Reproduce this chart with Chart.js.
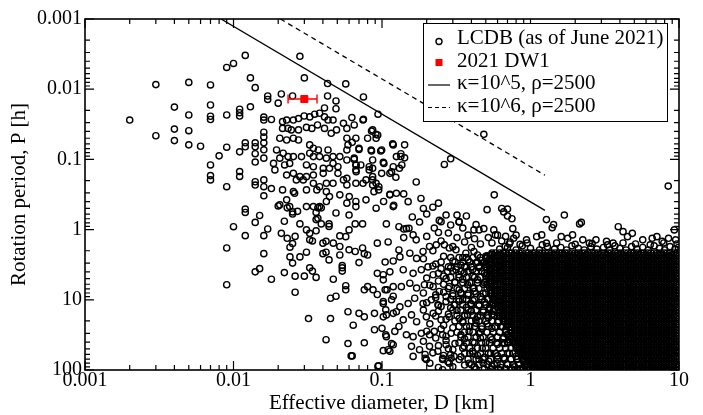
<!DOCTYPE html>
<html><head><meta charset="utf-8">
<script src="https://cdn.jsdelivr.net/npm/chart.js@4"></script>
<style>html,body{margin:0;padding:0;background:#fff}#wrap{width:703px;height:415px}</style>
</head><body><div id="wrap"><canvas id="c"></canvas></div>
<script>
const xTickValues=[0.001,0.01,0.1,1,10];
const xTickLabels=['0.001','0.01','0.1','1','10'];
const yTickValues=[0.001,0.01,0.1,1,10,100];
const yTickLabels=['0.001','0.01','0.1','1','10','100'];
const xTitle='Effective diameter, D [km]';
const yTitle='Rotation period, P [h]';
const seriesLabels=['LCDB (as of June 2021)','2021 DW1','\u03ba=10^5, \u03c1=2500','\u03ba=10^6, \u03c1=2500'];

// 2021 DW1 (diameter with range, period)
const dw1D=[0.03], dw1P=[0.0138], dw1Dmin=[0.0233], dw1Dmax=[0.0365];
// spin limits (end points of the power-law lines)
const spin5D=[0.00824,1.25], spin5P=[0.001,0.533];
const spin6D=[0.0207,1.25], spin6P=[0.001,0.168];

// LCDB: individually readable points [D km, P h]
const lcdbSparse=[
[0.002,0.0275],[0.003,0.0086],[0.003,0.046],[0.004,0.018],[0.004,0.037],[0.004,0.054],[0.005,0.008],[0.005,0.0233],[0.005,0.039],[0.005,0.062],[0.006,0.065],[0.007,0.0087],[0.007,0.0168],[0.007,0.0243],[0.007,0.027],[0.007,0.12],[0.007,0.17],[0.007,0.196],[0.008,0.089],[0.009,0.0049],[0.01,0.0043],[0.009,0.0233],[0.009,0.067],[0.009,0.245],[0.011,0.0193],[0.011,0.0216],[0.011,0.0241],[0.011,0.078],[0.011,0.149],[0.011,0.175],[0.012,0.0033],[0.013,0.0069],[0.013,0.0178],[0.014,0.0095],[0.012,0.058],[0.012,0.066],[0.014,0.058],[0.014,0.066],[0.014,0.083],[0.014,0.109],[0.014,0.208],[0.014,0.232],[0.016,0.025],[0.016,0.0275],[0.016,0.041],[0.016,0.048],[0.016,0.058],[0.016,0.073],[0.016,0.096],[0.016,0.196],[0.016,0.245],[0.016,0.33],[0.017,0.0125],[0.017,0.014],[0.018,0.027],[0.018,0.26],[0.02,0.0158],[0.021,0.0117],[0.025,0.0125],[0.028,0.0034],[0.03,0.0069],[0.043,0.0083],[0.043,0.0125],[0.049,0.0147],[0.049,0.019],[0.057,0.0084],[0.075,0.0129],[0.075,0.0268],[0.094,0.0227],[0.041,0.0185],
[0.0214,0.029],[0.0228,0.0275],[0.0253,0.0275],[0.0274,0.0262],[0.0299,0.0241],[0.0326,0.0248],[0.0352,0.0227],[0.038,0.022],[0.041,0.0248],[0.0433,0.0275],[0.0468,0.0275],[0.055,0.0306],[0.058,0.0362],[0.0627,0.0254],[0.065,0.0323],[0.0745,0.0275],
[0.0214,0.0362],[0.0233,0.0362],[0.0245,0.038],[0.0274,0.038],[0.031,0.035],[0.0337,0.0362],[0.0368,0.0323],[0.041,0.0362],[0.0455,0.0425],[0.0494,0.038],[0.058,0.05],[0.0667,0.05],[0.0865,0.038],[0.0936,0.0449],[0.0913,0.05],
[0.0205,0.05],[0.0228,0.0529],[0.0253,0.05],[0.0274,0.0529],[0.0326,0.0622],[0.0345,0.0694],[0.0373,0.0733],[0.0433,0.0733],[0.0468,0.0912],[0.052,0.0912],[0.059,0.0622],[0.058,0.0733],[0.07,0.0694],[0.0845,0.0733],[0.0995,0.0733],[0.119,0.0622],
[0.0195,0.0733],[0.0216,0.0817],[0.0233,0.0912],[0.0253,0.0912],[0.0287,0.0912],[0.0326,0.0817],[0.0345,0.0912],[0.038,0.0912],[0.0422,0.096],[0.0468,0.114],[0.058,0.102],[0.065,0.096],[0.0865,0.102],[0.103,0.114],[0.125,0.0912],
[0.0186,0.114],[0.0205,0.096],[0.0221,0.12],[0.0239,0.114],[0.031,0.12],[0.0345,0.127],[0.0402,0.134],[0.0443,0.134],[0.0505,0.127],[0.0667,0.12],[0.072,0.12],[0.082,0.127],[0.0865,0.134],[0.119,0.127],
[0.019,0.141],[0.0228,0.167],[0.0253,0.158],[0.028,0.176],[0.031,0.176],[0.0345,0.167],[0.0402,0.158],[0.0505,0.158],[0.058,0.186],[0.0667,0.141],[0.082,0.141],[0.0865,0.176],[0.0995,0.158],[0.113,0.158],
[0.0214,0.272],[0.0253,0.288],[0.0265,0.196],[0.0295,0.196],[0.0345,0.219],[0.038,0.245],[0.0422,0.219],[0.0468,0.219],[0.055,0.196],[0.058,0.231],[0.0667,0.219],[0.0745,0.219],[0.0865,0.196],[0.0913,0.219],[0.0953,0.245],[0.113,0.32],
[0.0228,0.377],[0.0258,0.304],[0.031,0.272],[0.0364,0.272],[0.0422,0.288],[0.0443,0.339],[0.052,0.32],[0.0602,0.339],[0.0667,0.398],[0.078,0.377],[0.0883,0.288],[0.1025,0.398],[0.125,0.304],
[0.0205,0.444],[0.0239,0.47],[0.0345,0.47],[0.038,0.47],[0.0422,0.398],[0.058,0.42],[0.0667,0.47],[0.0913,0.496],[0.119,0.47],
[0.085,0.0395],[0.091,0.044],[0.08,0.05],[0.063,0.057],[0.118,0.06],[0.142,0.062],[0.07,0.072],[0.085,0.076],[0.098,0.076],[0.134,0.083],[0.134,0.091],[0.142,0.095],[0.065,0.1],[0.102,0.11],[0.067,0.12],[0.136,0.12],[0.131,0.134],[0.116,0.15],[0.124,0.18],[0.29,0.098],[0.263,0.118],[0.485,0.044],[0.17,0.21],[0.183,0.36],[0.14,0.31],[0.113,0.315],[0.067,0.15],[0.078,0.196],[0.0865,0.231],[0.095,0.272],[0.57,0.32],[0.51,0.52],[0.64,0.5],[0.7,0.51],[0.66,0.56],[0.7,0.64],[0.75,0.7],[0.22,0.48],[0.32,0.62],[0.37,0.64],[0.33,0.78],[0.243,0.74],[0.179,0.78],[1.28,0.72],[1.69,0.62],[2.2,0.79],[1.4,0.94],[0.13,0.91],[0.14,0.98],[0.152,0.96],[0.43,0.85],[0.45,1.01],[0.485,0.97],[0.566,1.01],[0.76,0.97],[0.77,1.33],[0.225,0.95],[0.24,1.1],[8.46,0.24],
[0.107,0.83],[0.146,0.97],[0.162,1.19],[0.25,0.77],[0.331,0.77],[0.416,1.01],[0.58,1.19],[0.675,1.74],[0.94,1.4],[1.1,1.26],[1.19,1.19],[1.28,1.56],[1.43,0.85],[1.61,1.26],[1.78,1.33],[1.92,1.19],[2.14,0.83],[2.25,1.4],[2.49,1.56],[2.76,1.4],[3.25,1.47],[3.6,1.56],[3.9,0.91],[4.2,1.07],[4.5,1.26],[4.85,1.13],[5.7,1.4],[6.6,1.33],[7.1,1.26],[7.7,1.47],[8.5,1.33],[9.5,1.4],[9.3,1.01],
[0.62,1.9],[0.7,1.8],[0.8,1.95],[0.88,1.7],[1.0,1.85],[1.15,1.95],[1.3,1.75],[1.45,1.9],[1.6,1.8],[1.75,1.95],[1.9,1.7],[2.1,1.85],[2.3,1.95],[2.55,1.75],[2.8,1.9],[3.1,1.8],[3.4,1.95],[3.7,1.7],[4.0,1.85],[4.4,1.95],[4.8,1.75],[5.2,1.9],[5.7,1.8],[6.2,1.95],[6.8,1.7],[7.4,1.85],[8.0,1.95],[8.7,1.75],[9.4,1.9],[9.9,1.8],
[0.72,1.6],[0.95,1.55],[1.2,1.65],[1.5,1.55],[2.0,1.62],[2.6,1.58],[3.3,1.65],[4.2,1.55],[5.1,1.6],[6.4,1.65],[7.9,1.55],[9.7,1.6],
[0.009,1.83],[0.009,6.1],[0.01,0.91],[0.012,0.51],[0.012,0.57],[0.012,1.22],[0.014,0.79],[0.014,4.0],[0.015,0.63],[0.015,3.6],[0.016,1.22],[0.016,2.2],[0.017,0.98],[0.018,5.1],[0.02,0.46],[0.021,1.13],[0.022,0.76],[0.022,4.1],[0.023,0.49],[0.023,1.33],[0.024,1.78],[0.024,2.45],[0.025,0.56],[0.025,0.6],[0.025,1.58],[0.025,3.0],[0.026,1.25],[0.026,4.6],[0.026,7.8],[0.027,0.55],[0.028,0.83],[0.028,2.45],[0.03,4.6],[0.031,0.47],[0.031,1.01],[0.031,2.1],[0.032,18.5],[0.0326,1.13],[0.0326,1.4],[0.0326,3.5],[0.034,1.45],[0.034,3.9],[0.036,0.57],[0.036,0.72],[0.036,1.04],[0.036,4.8],[0.037,0.49],[0.037,0.69],[0.039,0.49],[0.039,0.83],[0.04,1.56],[0.04,2.2],[0.042,37],[0.042,1.47],[0.042,2.1],[0.044,0.83],[0.044,0.9],[0.044,2.7],[0.045,9.5],[0.045,18.5],[0.047,1.56],[0.047,5.1],[0.049,0.58],[0.049,8.9],[0.052,1.23],[0.052,1.74],[0.052,2.3],[0.054,3.25],[0.054,3.5],[0.054,3.9],[0.057,1.26],[0.057,6.3],[0.057,7.2],[0.059,14.8],[0.059,42],[0.06,0.62],[0.06,1.01],[0.06,1.94],[0.062,63],[0.064,23],[0.066,0.83],[0.066,2.05],[0.07,2.95],[0.07,15.6],[0.074,1.83],[0.074,0.83],[0.076,2.2],[0.076,7.2],[0.076,17.5],[0.076,41],[0.08,2.3],[0.08,6.5],[0.087,7.2],[0.089,15.6],[0.089,26.7],[0.093,1.56],[0.093,4.2],[0.093,8.4],[0.095,87],[0.1,25.5],[0.102,5.2],[0.102,10.6],[0.102,17.5],[0.102,53],[0.106,13.9],[0.106,31.5],[0.108,7.2],[0.113,54],[0.116,42],[0.119,8.9],[0.125,14.8],[0.13,24],
[0.063,63],[0.094,88],[0.195,60],[0.195,68],[0.256,71],[0.256,99],[0.278,76],[0.292,68],[0.306,64],
[0.105,2.9],[0.119,2.8],[0.132,2.45],[0.154,2.17],[0.171,2.57],[0.189,2.05],[0.209,1.74],[0.232,1.65],[0.263,1.65],[0.284,1.83],[0.315,1.94],[0.367,2.17],[0.416,2.05],
[0.102,4.4],[0.113,4.0],[0.139,3.73],[0.162,4.2],[0.184,3.73],[0.204,3.4],[0.221,4.4],[0.25,3.6],[0.277,3.95],[0.315,3.73],[0.357,4.2],[0.407,3.73],
[0.105,7.2],[0.119,6.5],[0.135,6.5],[0.154,5.8],[0.171,6.8],[0.193,6.1],[0.221,6.5],[0.243,7.6],[0.284,6.5],[0.331,7.2],[0.377,6.1],[0.416,6.8],
[0.102,11.3],[0.116,10],[0.132,12.6],[0.15,11.3],[0.166,9.5],[0.189,11.3],[0.215,10],[0.238,11.8],[0.27,10.6],[0.306,11.8],[0.349,10],[0.397,11.3],
[0.107,16.4],[0.119,15.6],[0.139,19.3],[0.158,16.4],[0.171,20.5],[0.199,17.5],[0.221,15.6],[0.25,19.3],[0.284,17.5],[0.331,18.5],[0.377,16.4],[0.428,19.3],
[0.107,33.5],[0.122,28.2],[0.146,31.5],[0.162,33.5],[0.184,30],[0.209,31.5],[0.225,28.2],[0.256,31.5],[0.292,30],[0.34,31.5],[0.386,28.2],[0.45,30],
[0.11,51.4],[0.119,43.7],[0.158,46],[0.179,51.4],[0.209,46],[0.238,54],[0.27,43.7],[0.3,51.4],[0.357,46],[0.407,54],[0.473,49],
[0.162,64],[0.199,71],[0.256,68],[0.284,80],[0.331,71],[0.386,80],[0.45,71],[0.524,75],[0.595,80],[0.76,84],[1.045,80],
[0.44,2.3],[0.5,2.4],[0.55,2.25],[0.6,2.35],[0.35,2.5],[0.26,2.4],
[0.23,3.1],[0.3,2.8],[0.34,3.2],[0.38,2.7],[0.43,3.0],[0.47,2.75],[0.52,3.1],[0.57,2.9],[0.61,3.2],
[0.26,4.6],[0.29,3.5],[0.33,4.4],[0.37,3.4],[0.41,4.6],[0.45,3.5],[0.49,4.2],[0.54,3.6],[0.58,4.5],[0.62,3.9],
[0.24,5.4],[0.27,5.0],[0.31,5.6],[0.35,5.1],[0.4,5.7],[0.44,5.2],[0.48,6.0],[0.53,5.4],[0.57,6.3],[0.6,5.0],
[0.23,8.5],[0.26,7.8],[0.3,8.8],[0.34,7.9],[0.38,8.6],[0.42,7.6],[0.46,9.0],[0.5,8.0],[0.55,8.9],[0.59,7.4],
[0.25,12.5],[0.29,13],[0.33,10.5],[0.37,12.8],[0.41,10.3],[0.45,12.2],[0.49,10.8],[0.53,12.9],[0.57,10.2],[0.62,12],
[0.24,14.5],[0.28,16],[0.32,14.2],[0.36,17],[0.4,14.5],[0.44,17.5],[0.48,15],[0.52,18],[0.56,14.5],[0.6,17],[0.66,15.5],
[0.26,23],[0.3,25],[0.35,21],[0.39,24],[0.43,21.5],[0.47,26],[0.51,22],[0.55,25.5],[0.6,21],[0.65,24.5],[0.7,22],
[0.27,38],[0.31,42],[0.36,36],[0.41,40],[0.46,35],[0.5,41],[0.55,37],[0.6,43],[0.65,36],[0.7,40],[0.76,38],
[0.29,60],[0.34,65],[0.39,58],[0.44,62],[0.49,66],[0.54,58],[0.6,63],[0.66,67],[0.72,58],[0.8,64],[0.88,60],
[0.36,85],[0.42,90],[0.48,80],[0.55,88],[0.63,92],[0.7,82],[0.78,90],[0.86,95],[0.93,86],
[0.15,0.4],[0.19,0.5],[0.24,0.42],[0.12,0.45],[0.27,0.62],[0.2,0.6],[0.16,0.66],[0.29,0.86],[0.35,0.95],[0.38,1.2],[0.32,1.3],[0.28,1.12],[0.2,1.25],[0.17,1.4],[0.14,1.3],[0.11,1.5],[0.25,1.45],[0.36,1.5],[0.42,1.35],[0.46,1.6],[0.52,1.3],[0.55,1.55],[0.6,1.2],[0.64,1.45],[0.68,1.25],[0.73,1.5],[0.8,1.2],[0.85,1.62],[0.4,1.8],[0.3,1.75],[0.22,2.0],[0.13,1.95],
[0.56,9.5],[0.55,11],[0.53,13.5],[0.55,16],[0.66,20.5],[0.68,27],[0.7,31],[0.72,37],[0.67,42],[0.84,48],[0.88,53],[0.82,70],[0.9,76],[0.85,99],
[0.29,2.5],[0.33,2.5],[0.37,2.5],[0.41,2.5],[0.46,2.5],[0.51,2.5],
[0.31,2.9],[0.35,2.9],[0.39,2.9],[0.44,2.9],[0.49,2.9],[0.54,2.9],
[0.28,3.4],[0.32,3.4],[0.36,3.4],[0.4,3.4],[0.45,3.4],[0.5,3.4],
[0.3,3.9],[0.34,3.9],[0.38,3.9],[0.43,3.9],[0.47,3.9],[0.53,3.9],
[0.29,4.8],[0.33,4.8],[0.37,4.8],[0.42,4.8],[0.46,4.8],[0.52,4.8],
[0.31,5.7],[0.35,5.7],[0.39,5.7],[0.44,5.7],[0.49,5.7],[0.55,5.7],
[0.28,6.9],[0.32,6.9],[0.36,6.9],[0.41,6.9],[0.45,6.9],[0.51,6.9],
[0.3,8.2],[0.34,8.2],[0.38,8.2],[0.43,8.2],[0.48,8.2],[0.54,8.2],
[0.29,9.8],[0.33,9.8],[0.37,9.8],[0.42,9.8],[0.47,9.8],[0.52,9.8],
[0.31,11.8],[0.35,11.8],[0.4,11.8],[0.45,11.8],[0.5,11.8],[0.56,11.8],
[0.3,14],[0.34,14],[0.38,14],[0.43,14],[0.48,14],[0.53,14],
[0.32,16.8],[0.36,16.8],[0.41,16.8],[0.46,16.8],[0.51,16.8],[0.57,16.8],[0.62,16.8],
[0.31,20],[0.35,20],[0.4,20],[0.45,20],[0.5,20],[0.55,20],[0.61,20],[0.66,20],
[0.33,24],[0.37,24],[0.42,24],[0.47,24],[0.52,24],[0.58,24],[0.63,24],[0.69,24],
[0.32,29],[0.36,29],[0.41,29],[0.46,29],[0.51,29],[0.56,29],[0.62,29],[0.68,29],
[0.34,34],[0.38,34],[0.43,34],[0.48,34],[0.54,34],[0.6,34],[0.66,34],[0.72,34],
[0.33,41],[0.37,41],[0.42,41],[0.47,41],[0.53,41],[0.59,41],[0.65,41],[0.71,41],[0.77,41],
[0.35,49],[0.39,49],[0.44,49],[0.5,49],[0.56,49],[0.62,49],[0.68,49],[0.74,49],[0.8,49],
[0.36,58],[0.41,58],[0.46,58],[0.52,58],[0.58,58],[0.64,58],[0.7,58],[0.76,58],[0.83,58],
[0.38,70],[0.43,70],[0.48,70],[0.54,70],[0.6,70],[0.67,70],[0.74,70],[0.81,70],[0.88,70],
[0.4,84],[0.45,84],[0.51,84],[0.57,84],[0.63,84],[0.7,84],[0.77,84],[0.84,84],[0.91,84],
[0.43,97],[0.49,97],[0.55,97],[0.61,97],[0.68,97],[0.75,97],[0.82,97],[0.89,97],
[0.19,2.6],[0.22,3.3],[0.25,2.9],[0.2,4.9],[0.24,4.2],[0.21,6.2],[0.26,6.0],[0.19,8.0],[0.23,9.3],[0.27,9.0],[0.2,11],[0.24,12],[0.19,14],[0.23,17],[0.27,19],[0.21,22],[0.25,26],[0.2,28],[0.23,35],[0.27,33],[0.19,39],[0.24,45],[0.28,50],[0.22,57],[0.26,62],[0.21,80],[0.3,90],[0.24,92]
];

// LCDB: saturated block (D 0.5-10 km, P 2-100 h), rows of [P, diameters]
const lcdbDenseRows=[
[2.15,[0.55,0.58,0.62,0.65,0.68,0.72,0.75,0.79,0.84,0.88,0.93,0.97,1.03,1.08,1.14,1.2,1.26,1.32,1.39,1.47,1.55,1.63,1.71,1.8,1.89,2,2.1,2.21,2.32,2.44,2.58,2.71,2.85,3,3.16,3.33,3.5,3.68,3.87,4.07,4.3,4.52,4.75,5,5.26,5.55,5.83,6.14,6.46,6.79,7.16,7.53,7.93,8.34,8.77,9.25,9.73]],
[2.36,[0.51,0.54,0.57,0.6,0.63,0.66,0.7,0.74,0.78,0.82,0.86,0.9,0.95,1,1.05,1.11,1.17,1.23,1.29,1.36,1.43,1.5,1.59,1.67,1.76,1.85,1.94,2.05,2.15,2.27,2.38,2.5,2.64,2.78,2.92,3.08,3.24,3.42,3.59,3.78,3.97,4.18,4.41,4.64,4.87,5.13,5.4,5.69,5.98,6.3,6.63,6.97,7.35,7.73,8.14,8.56,9,9.49,9.98]],
[2.6,[0.5,0.53,0.55,0.58,0.62,0.65,0.68,0.72,0.75,0.79,0.84,0.88,0.93,0.97,1.03,1.08,1.14,1.2,1.26,1.32,1.39,1.47,1.55,1.63,1.71,1.8,1.89,2,2.1,2.21,2.32,2.44,2.58,2.71,2.85,3,3.16,3.33,3.5,3.68,3.87,4.07,4.3,4.52,4.75,5,5.26,5.55,5.83,6.14,6.46,6.79,7.16,7.53,7.93,8.34,8.77,9.25,9.73]],
[2.85,[0.54,0.57,0.6,0.63,0.66,0.7,0.74,0.78,0.82,0.86,0.9,0.95,1,1.05,1.11,1.17,1.23,1.29,1.36,1.43,1.5,1.59,1.67,1.76,1.85,1.94,2.05,2.15,2.27,2.38,2.5,2.64,2.78,2.92,3.08,3.24,3.42,3.59,3.78,3.97,4.18,4.41,4.64,4.87,5.13,5.4,5.69,5.98,6.3,6.63,6.97,7.35,7.73,8.14,8.56,9,9.49,9.98]],
[3.13,[0.5,0.53,0.55,0.58,0.62,0.65,0.68,0.72,0.75,0.79,0.84,0.88,0.93,0.97,1.03,1.08,1.14,1.2,1.26,1.32,1.39,1.47,1.55,1.63,1.71,1.8,1.89,2,2.1,2.21,2.32,2.44,2.58,2.71,2.85,3,3.16,3.33,3.5,3.68,3.87,4.07,4.3,4.52,4.75,5,5.26,5.55,5.83,6.14,6.46,6.79,7.16,7.53,7.93,8.34,8.77,9.25,9.73]],
[3.44,[0.51,0.54,0.57,0.6,0.63,0.66,0.7,0.74,0.78,0.82,0.86,0.9,0.95,1,1.05,1.11,1.17,1.23,1.29,1.36,1.43,1.5,1.59,1.67,1.76,1.85,1.94,2.05,2.15,2.27,2.38,2.5,2.64,2.78,2.92,3.08,3.24,3.42,3.59,3.78,3.97,4.18,4.41,4.64,4.87,5.13,5.4,5.69,5.98,6.3,6.63,6.97,7.35,7.73,8.14,8.56,9,9.49,9.98]],
[3.78,[0.53,0.55,0.58,0.62,0.65,0.68,0.72,0.75,0.79,0.84,0.88,0.93,0.97,1.03,1.08,1.14,1.2,1.26,1.32,1.39,1.47,1.55,1.63,1.71,1.8,1.89,2,2.1,2.21,2.32,2.44,2.58,2.71,2.85,3,3.16,3.33,3.5,3.68,3.87,4.07,4.3,4.52,4.75,5,5.26,5.55,5.83,6.14,6.46,6.79,7.16,7.53,7.93,8.34,8.77,9.25,9.73]],
[4.15,[0.51,0.54,0.57,0.6,0.63,0.66,0.7,0.74,0.78,0.82,0.86,0.9,0.95,1,1.05,1.11,1.17,1.23,1.29,1.36,1.43,1.5,1.59,1.67,1.76,1.85,1.94,2.05,2.15,2.27,2.38,2.5,2.64,2.78,2.92,3.08,3.24,3.42,3.59,3.78,3.97,4.18,4.41,4.64,4.87,5.13,5.4,5.69,5.98,6.3,6.63,6.97,7.35,7.73,8.14,8.56,9,9.49,9.98]],
[4.56,[0.5,0.53,0.55,0.58,0.62,0.65,0.68,0.72,0.75,0.79,0.84,0.88,0.93,0.97,1.03,1.08,1.14,1.2,1.26,1.32,1.39,1.47,1.55,1.63,1.71,1.8,1.89,2,2.1,2.21,2.32,2.44,2.58,2.71,2.85,3,3.16,3.33,3.5,3.68,3.87,4.07,4.3,4.52,4.75,5,5.26,5.55,5.83,6.14,6.46,6.79,7.16,7.53,7.93,8.34,8.77,9.25,9.73]],
[5.0,[0.54,0.57,0.6,0.63,0.66,0.7,0.74,0.78,0.82,0.86,0.9,0.95,1,1.05,1.11,1.17,1.23,1.29,1.36,1.43,1.5,1.59,1.67,1.76,1.85,1.94,2.05,2.15,2.27,2.38,2.5,2.64,2.78,2.92,3.08,3.24,3.42,3.59,3.78,3.97,4.18,4.41,4.64,4.87,5.13,5.4,5.69,5.98,6.3,6.63,6.97,7.35,7.73,8.14,8.56,9,9.49,9.98]],
[5.5,[0.5,0.53,0.55,0.58,0.62,0.65,0.68,0.72,0.75,0.79,0.84,0.88,0.93,0.97,1.03,1.08,1.14,1.2,1.26,1.32,1.39,1.47,1.55,1.63,1.71,1.8,1.89,2,2.1,2.21,2.32,2.44,2.58,2.71,2.85,3,3.16,3.33,3.5,3.68,3.87,4.07,4.3,4.52,4.75,5,5.26,5.55,5.83,6.14,6.46,6.79,7.16,7.53,7.93,8.34,8.77,9.25,9.73]],
[6.04,[0.51,0.54,0.57,0.6,0.63,0.66,0.7,0.74,0.78,0.82,0.86,0.9,0.95,1,1.05,1.11,1.17,1.23,1.29,1.36,1.43,1.5,1.59,1.67,1.76,1.85,1.94,2.05,2.15,2.27,2.38,2.5,2.64,2.78,2.92,3.08,3.24,3.42,3.59,3.78,3.97,4.18,4.41,4.64,4.87,5.13,5.4,5.69,5.98,6.3,6.63,6.97,7.35,7.73,8.14,8.56,9,9.49,9.98]],
[6.63,[0.53,0.55,0.58,0.62,0.65,0.68,0.72,0.75,0.79,0.84,0.88,0.93,0.97,1.03,1.08,1.14,1.2,1.26,1.32,1.39,1.47,1.55,1.63,1.71,1.8,1.89,2,2.1,2.21,2.32,2.44,2.58,2.71,2.85,3,3.16,3.33,3.5,3.68,3.87,4.07,4.3,4.52,4.75,5,5.26,5.55,5.83,6.14,6.46,6.79,7.16,7.53,7.93,8.34,8.77,9.25,9.73]],
[7.28,[0.54,0.57,0.6,0.63,0.66,0.7,0.74,0.78,0.82,0.86,0.9,0.95,1,1.05,1.11,1.17,1.23,1.29,1.36,1.43,1.5,1.59,1.67,1.76,1.85,1.94,2.05,2.15,2.27,2.38,2.5,2.64,2.78,2.92,3.08,3.24,3.42,3.59,3.78,3.97,4.18,4.41,4.64,4.87,5.13,5.4,5.69,5.98,6.3,6.63,6.97,7.35,7.73,8.14,8.56,9,9.49,9.98]],
[8.0,[0.55,0.58,0.62,0.65,0.68,0.72,0.75,0.79,0.84,0.88,0.93,0.97,1.03,1.08,1.14,1.2,1.26,1.32,1.39,1.47,1.55,1.63,1.71,1.8,1.89,2,2.1,2.21,2.32,2.44,2.58,2.71,2.85,3,3.16,3.33,3.5,3.68,3.87,4.07,4.3,4.52,4.75,5,5.26,5.55,5.83,6.14,6.46,6.79,7.16,7.53,7.93,8.34,8.77,9.25,9.73]],
[8.78,[0.57,0.6,0.63,0.66,0.7,0.74,0.78,0.82,0.86,0.9,0.95,1,1.05,1.11,1.17,1.23,1.29,1.36,1.43,1.5,1.59,1.67,1.76,1.85,1.94,2.05,2.15,2.27,2.38,2.5,2.64,2.78,2.92,3.08,3.24,3.42,3.59,3.78,3.97,4.18,4.41,4.64,4.87,5.13,5.4,5.69,5.98,6.3,6.63,6.97,7.35,7.73,8.14,8.56,9,9.49,9.98]],
[9.64,[0.58,0.62,0.65,0.68,0.72,0.75,0.79,0.84,0.88,0.93,0.97,1.03,1.08,1.14,1.2,1.26,1.32,1.39,1.47,1.55,1.63,1.71,1.8,1.89,2,2.1,2.21,2.32,2.44,2.58,2.71,2.85,3,3.16,3.33,3.5,3.68,3.87,4.07,4.3,4.52,4.75,5,5.26,5.55,5.83,6.14,6.46,6.79,7.16,7.53,7.93,8.34,8.77,9.25,9.73]],
[10.6,[0.6,0.63,0.66,0.7,0.74,0.78,0.82,0.86,0.9,0.95,1,1.05,1.11,1.17,1.23,1.29,1.36,1.43,1.5,1.59,1.67,1.76,1.85,1.94,2.05,2.15,2.27,2.38,2.5,2.64,2.78,2.92,3.08,3.24,3.42,3.59,3.78,3.97,4.18,4.41,4.64,4.87,5.13,5.4,5.69,5.98,6.3,6.63,6.97,7.35,7.73,8.14,8.56,9,9.49,9.98]],
[11.6,[0.58,0.62,0.65,0.68,0.72,0.75,0.79,0.84,0.88,0.93,0.97,1.03,1.08,1.14,1.2,1.26,1.32,1.39,1.47,1.55,1.63,1.71,1.8,1.89,2,2.1,2.21,2.32,2.44,2.58,2.71,2.85,3,3.16,3.33,3.5,3.68,3.87,4.07,4.3,4.52,4.75,5,5.26,5.55,5.83,6.14,6.46,6.79,7.16,7.53,7.93,8.34,8.77,9.25,9.73]],
[12.8,[0.6,0.63,0.66,0.7,0.74,0.78,0.82,0.86,0.9,0.95,1,1.05,1.11,1.17,1.23,1.29,1.36,1.43,1.5,1.59,1.67,1.76,1.85,1.94,2.05,2.15,2.27,2.38,2.5,2.64,2.78,2.92,3.08,3.24,3.42,3.59,3.78,3.97,4.18,4.41,4.64,4.87,5.13,5.4,5.69,5.98,6.3,6.63,6.97,7.35,7.73,8.14,8.56,9,9.49,9.98]],
[14.0,[0.62,0.65,0.68,0.72,0.75,0.79,0.84,0.88,0.93,0.97,1.03,1.08,1.14,1.2,1.26,1.32,1.39,1.47,1.55,1.63,1.71,1.8,1.89,2,2.1,2.21,2.32,2.44,2.58,2.71,2.85,3,3.16,3.33,3.5,3.68,3.87,4.07,4.3,4.52,4.75,5,5.26,5.55,5.83,6.14,6.46,6.79,7.16,7.53,7.93,8.34,8.77,9.25,9.73]],
[15.4,[0.6,0.63,0.66,0.7,0.74,0.78,0.82,0.86,0.9,0.95,1,1.05,1.11,1.17,1.23,1.29,1.36,1.43,1.5,1.59,1.67,1.76,1.85,1.94,2.05,2.15,2.27,2.38,2.5,2.64,2.78,2.92,3.08,3.24,3.42,3.59,3.78,3.97,4.18,4.41,4.64,4.87,5.13,5.4,5.69,5.98,6.3,6.63,6.97,7.35,7.73,8.14,8.56,9,9.49,9.98]],
[16.9,[0.62,0.65,0.68,0.72,0.75,0.79,0.84,0.88,0.93,0.97,1.03,1.08,1.14,1.2,1.26,1.32,1.39,1.47,1.55,1.63,1.71,1.8,1.89,2,2.1,2.21,2.32,2.44,2.58,2.71,2.85,3,3.16,3.33,3.5,3.68,3.87,4.07,4.3,4.52,4.75,5,5.26,5.55,5.83,6.14,6.46,6.79,7.16,7.53,7.93,8.34,8.77,9.25,9.73]],
[18.6,[0.66,0.7,0.74,0.78,0.82,0.86,0.9,0.95,1,1.05,1.11,1.17,1.23,1.29,1.36,1.43,1.5,1.59,1.67,1.76,1.85,1.94,2.05,2.15,2.27,2.38,2.5,2.64,2.78,2.92,3.08,3.24,3.42,3.59,3.78,3.97,4.18,4.41,4.64,4.87,5.13,5.4,5.69,5.98,6.3,6.63,6.97,7.35,7.73,8.14,8.56,9,9.49,9.98]],
[20.4,[0.68,0.72,0.75,0.79,0.84,0.88,0.93,0.97,1.03,1.08,1.14,1.2,1.26,1.32,1.39,1.47,1.55,1.63,1.71,1.8,1.89,2,2.1,2.21,2.32,2.44,2.58,2.71,2.85,3,3.16,3.33,3.5,3.68,3.87,4.07,4.3,4.52,4.75,5,5.26,5.55,5.83,6.14,6.46,6.79,7.16,7.53,7.93,8.34,8.77,9.25,9.73]],
[22.4,[0.7,0.74,0.78,0.82,0.86,0.9,0.95,1,1.05,1.11,1.17,1.23,1.29,1.36,1.43,1.5,1.59,1.67,1.76,1.85,1.94,2.05,2.15,2.27,2.38,2.5,2.64,2.78,2.92,3.08,3.24,3.42,3.59,3.78,3.97,4.18,4.41,4.64,4.87,5.13,5.4,5.69,5.98,6.3,6.63,6.97,7.35,7.73,8.14,8.56,9,9.49,9.98]],
[24.6,[0.72,0.75,0.79,0.84,0.88,0.93,0.97,1.03,1.08,1.14,1.2,1.26,1.32,1.39,1.47,1.55,1.63,1.71,1.8,1.89,2,2.1,2.21,2.32,2.44,2.58,2.71,2.85,3,3.16,3.33,3.5,3.68,3.87,4.07,4.3,4.52,4.75,5,5.26,5.55,5.83,6.14,6.46,6.79,7.16,7.53,7.93,8.34,8.77,9.25,9.73]],
[27.0,[0.74,0.78,0.82,0.86,0.9,0.95,1,1.05,1.11,1.17,1.23,1.29,1.36,1.43,1.5,1.59,1.67,1.76,1.85,1.94,2.05,2.15,2.27,2.38,2.5,2.64,2.78,2.92,3.08,3.24,3.42,3.59,3.78,3.97,4.18,4.41,4.64,4.87,5.13,5.4,5.69,5.98,6.3,6.63,6.97,7.35,7.73,8.14,8.56,9,9.49,9.98]],
[29.7,[0.75,0.79,0.84,0.88,0.93,0.97,1.03,1.08,1.14,1.2,1.26,1.32,1.39,1.47,1.55,1.63,1.71,1.8,1.89,2,2.1,2.21,2.32,2.44,2.58,2.71,2.85,3,3.16,3.33,3.5,3.68,3.87,4.07,4.3,4.52,4.75,5,5.26,5.55,5.83,6.14,6.46,6.79,7.16,7.53,7.93,8.34,8.77,9.25,9.73]],
[32.6,[0.74,0.78,0.82,0.86,0.9,0.95,1,1.05,1.11,1.17,1.23,1.29,1.36,1.43,1.5,1.59,1.67,1.76,1.85,1.94,2.05,2.15,2.27,2.38,2.5,2.64,2.78,2.92,3.08,3.24,3.42,3.59,3.78,3.97,4.18,4.41,4.64,4.87,5.13,5.4,5.69,5.98,6.3,6.63,6.97,7.35,7.73,8.14,8.56,9,9.49,9.98]],
[35.8,[0.75,0.79,0.84,0.88,0.93,0.97,1.03,1.08,1.14,1.2,1.26,1.32,1.39,1.47,1.55,1.63,1.71,1.8,1.89,2,2.1,2.21,2.32,2.44,2.58,2.71,2.85,3,3.16,3.33,3.5,3.68,3.87,4.07,4.3,4.52,4.75,5,5.26,5.55,5.83,6.14,6.46,6.79,7.16,7.53,7.93,8.34,8.77,9.25,9.73]],
[39.3,[0.78,0.82,0.86,0.9,0.95,1,1.05,1.11,1.17,1.23,1.29,1.36,1.43,1.5,1.59,1.67,1.76,1.85,1.94,2.05,2.15,2.27,2.38,2.5,2.64,2.78,2.92,3.08,3.24,3.42,3.59,3.78,3.97,4.18,4.41,4.64,4.87,5.13,5.4,5.69,5.98,6.3,6.63,6.97,7.35,7.73,8.14,8.56,9,9.49,9.98]],
[43.2,[0.79,0.84,0.88,0.93,0.97,1.03,1.08,1.14,1.2,1.26,1.32,1.39,1.47,1.55,1.63,1.71,1.8,1.89,2,2.1,2.21,2.32,2.44,2.58,2.71,2.85,3,3.16,3.33,3.5,3.68,3.87,4.07,4.3,4.52,4.75,5,5.26,5.55,5.83,6.14,6.46,6.79,7.16,7.53,7.93,8.34,8.77,9.25,9.73]],
[47.4,[0.82,0.86,0.9,0.95,1,1.05,1.11,1.17,1.23,1.29,1.36,1.43,1.5,1.59,1.67,1.76,1.85,1.94,2.05,2.15,2.27,2.38,2.5,2.64,2.78,2.92,3.08,3.24,3.42,3.59,3.78,3.97,4.18,4.41,4.64,4.87,5.13,5.4,5.69,5.98,6.3,6.63,6.97,7.35,7.73,8.14,8.56,9,9.49,9.98]],
[52.1,[0.84,0.88,0.93,0.97,1.03,1.08,1.14,1.2,1.26,1.32,1.39,1.47,1.55,1.63,1.71,1.8,1.89,2,2.1,2.21,2.32,2.44,2.58,2.71,2.85,3,3.16,3.33,3.5,3.68,3.87,4.07,4.3,4.52,4.75,5,5.26,5.55,5.83,6.14,6.46,6.79,7.16,7.53,7.93,8.34,8.77,9.25,9.73]],
[57.2,[0.86,0.9,0.95,1,1.05,1.11,1.17,1.23,1.29,1.36,1.43,1.5,1.59,1.67,1.76,1.85,1.94,2.05,2.15,2.27,2.38,2.5,2.64,2.78,2.92,3.08,3.24,3.42,3.59,3.78,3.97,4.18,4.41,4.64,4.87,5.13,5.4,5.69,5.98,6.3,6.63,6.97,7.35,7.73,8.14,8.56,9,9.49,9.98]],
[62.8,[0.88,0.93,0.97,1.03,1.08,1.14,1.2,1.26,1.32,1.39,1.47,1.55,1.63,1.71,1.8,1.89,2,2.1,2.21,2.32,2.44,2.58,2.71,2.85,3,3.16,3.33,3.5,3.68,3.87,4.07,4.3,4.52,4.75,5,5.26,5.55,5.83,6.14,6.46,6.79,7.16,7.53,7.93,8.34,8.77,9.25,9.73]],
[69.0,[0.9,0.95,1,1.05,1.11,1.17,1.23,1.29,1.36,1.43,1.5,1.59,1.67,1.76,1.85,1.94,2.05,2.15,2.27,2.38,2.5,2.64,2.78,2.92,3.08,3.24,3.42,3.59,3.78,3.97,4.18,4.41,4.64,4.87,5.13,5.4,5.69,5.98,6.3,6.63,6.97,7.35,7.73,8.14,8.56,9,9.49,9.98]],
[75.8,[0.93,0.97,1.03,1.08,1.14,1.2,1.26,1.32,1.39,1.47,1.55,1.63,1.71,1.8,1.89,2,2.1,2.21,2.32,2.44,2.58,2.71,2.85,3,3.16,3.33,3.5,3.68,3.87,4.07,4.3,4.52,4.75,5,5.26,5.55,5.83,6.14,6.46,6.79,7.16,7.53,7.93,8.34,8.77,9.25,9.73]],
[83.2,[0.95,1,1.05,1.11,1.17,1.23,1.29,1.36,1.43,1.5,1.59,1.67,1.76,1.85,1.94,2.05,2.15,2.27,2.38,2.5,2.64,2.78,2.92,3.08,3.24,3.42,3.59,3.78,3.97,4.18,4.41,4.64,4.87,5.13,5.4,5.69,5.98,6.3,6.63,6.97,7.35,7.73,8.14,8.56,9,9.49,9.98]],
[91.4,[0.97,1.03,1.08,1.14,1.2,1.26,1.32,1.39,1.47,1.55,1.63,1.71,1.8,1.89,2,2.1,2.21,2.32,2.44,2.58,2.71,2.85,3,3.16,3.33,3.5,3.68,3.87,4.07,4.3,4.52,4.75,5,5.26,5.55,5.83,6.14,6.46,6.79,7.16,7.53,7.93,8.34,8.77,9.25,9.73]],
[99.5,[0.95,1,1.05,1.11,1.17,1.23,1.29,1.36,1.43,1.5,1.59,1.67,1.76,1.85,1.94,2.05,2.15,2.27,2.38,2.5,2.64,2.78,2.92,3.08,3.24,3.42,3.59,3.78,3.97,4.18,4.41,4.64,4.87,5.13,5.4,5.69,5.98,6.3,6.63,6.97,7.35,7.73,8.14,8.56,9,9.49,9.98]]
];

// ---- build library data from the arrays ----
const lcdbPoints = lcdbSparse.map(([d,p])=>({x:d,y:p}));
lcdbDenseRows.forEach(([p,ds])=>ds.forEach(d=>lcdbPoints.push({x:d,y:p})));
const dw1Points = dw1D.map((d,i)=>({x:d,y:dw1P[i]}));
const spin5Points = spin5D.map((d,i)=>({x:d,y:spin5P[i]}));
const spin6Points = spin6D.map((d,i)=>({x:d,y:spin6P[i]}));

const FONT='"Liberation Serif", "Times New Roman", serif';

const decorPlugin={
  id:'decor',
  afterDatasetsDraw(chart){
    const {ctx, chartArea:a, scales:{x,y}}=chart;
    ctx.save();
    ctx.strokeStyle='#ff0000'; ctx.lineWidth=1.4;
    dw1D.forEach((d,i)=>{
      const x0=x.getPixelForValue(dw1Dmin[i]), x1=x.getPixelForValue(dw1Dmax[i]), py=y.getPixelForValue(dw1P[i]);
      ctx.beginPath();
      ctx.moveTo(x0,py); ctx.lineTo(x1,py);
      ctx.moveTo(x0,py-4.5); ctx.lineTo(x0,py+4.5);
      ctx.moveTo(x1,py-4.5); ctx.lineTo(x1,py+4.5);
      ctx.stroke();
    });
    ctx.strokeStyle='#000'; ctx.lineWidth=1.6;
    ctx.strokeRect(a.left,a.top,a.right-a.left,a.bottom-a.top);
    ctx.lineWidth=1.2;
    ctx.beginPath();
    const mult=[1,2,3,4,5,6,7,8,9];
    xTickValues.forEach(dec=>{
      mult.forEach(m=>{
        const v=dec*m; if(v>xTickValues[xTickValues.length-1]) return;
        const len=m===1?9:5; const px=x.getPixelForValue(v);
        ctx.moveTo(px,a.bottom); ctx.lineTo(px,a.bottom-len);
        ctx.moveTo(px,a.top); ctx.lineTo(px,a.top+len);
      });
    });
    yTickValues.forEach(dec=>{
      mult.forEach(m=>{
        const v=dec*m; if(v>yTickValues[yTickValues.length-1]) return;
        const len=m===1?9:5; const py=y.getPixelForValue(v);
        ctx.moveTo(a.left,py); ctx.lineTo(a.left+len,py);
        ctx.moveTo(a.right,py); ctx.lineTo(a.right-len,py);
      });
    });
    ctx.stroke();
    ctx.restore();
  },
  afterDraw(chart){
    const {ctx}=chart;
    const ds=chart.data.datasets;
    const box={l:423,t:23,r:668,b:122};
    ctx.save();
    ctx.fillStyle='#fff';
    ctx.fillRect(box.l,box.t,box.r-box.l,box.b-box.t);
    ctx.strokeStyle='#000'; ctx.lineWidth=1;
    ctx.strokeRect(box.l+0.5,box.t+0.5,box.r-box.l-1,box.b-box.t-1);
    const rows=[38.5,61,83.5,106];
    const order=[3,0,1,2];
    ctx.font='21px '+FONT; ctx.fillStyle='#000'; ctx.textBaseline='middle'; ctx.textAlign='left';
    order.forEach((di,r)=>{
      const d=ds[di]; const cy=rows[r];
      if(r===0){ ctx.beginPath(); ctx.lineWidth=1.4; ctx.strokeStyle='#000'; ctx.arc(439,cy+3,3,0,Math.PI*2); ctx.stroke(); }
      else if(r===1){ ctx.fillStyle='#ff0000'; ctx.fillRect(435.5,cy-2,7,7); ctx.fillStyle='#000'; }
      else { ctx.beginPath(); ctx.strokeStyle='#000'; ctx.lineWidth=1.2; ctx.setLineDash(r===3?[4,3]:[]); ctx.moveTo(428,cy+1.5); ctx.lineTo(450,cy+1.5); ctx.stroke(); ctx.setLineDash([]); }
      ctx.fillText(d.label,457,cy);
    });
    ctx.restore();
  }
};

new Chart(document.getElementById('c'),{
  type:'scatter',
  data:{datasets:[
    {label:seriesLabels[1],data:dw1Points,pointStyle:'rect',pointRadius:5,borderWidth:1,borderColor:'#ff0000',backgroundColor:'#ff0000'},
    {label:seriesLabels[2],data:spin5Points,showLine:true,pointRadius:0,borderColor:'#000',borderWidth:1.3,fill:false},
    {label:seriesLabels[3],data:spin6Points,showLine:true,pointRadius:0,borderColor:'#000',borderWidth:1.3,borderDash:[5,4],fill:false},
    {label:seriesLabels[0],data:lcdbPoints,pointStyle:'circle',pointRadius:3.1,borderWidth:1.4,borderColor:'#000',backgroundColor:'rgba(0,0,0,0)'}
  ]},
  options:{
    responsive:true,maintainAspectRatio:false,animation:false,events:[],
    layout:{padding:{left:0,right:24,top:19,bottom:0}},
    plugins:{legend:{display:false},tooltip:{enabled:false}},
    scales:{
      x:{type:'logarithmic',position:'bottom',min:0.001,max:10,
        grid:{display:false,drawTicks:false},border:{display:false},
        afterBuildTicks:s=>{s.ticks=xTickValues.map(v=>({value:v}));},
        afterFit:s=>{s.height=45;},
        ticks:{callback:(v,i)=>xTickLabels[i],autoSkip:false,maxRotation:0,padding:0,color:'#000',font:{family:FONT,size:20,lineHeight:1.1}},
        title:{display:true,text:xTitle,color:'#000',padding:{top:0,bottom:0},font:{family:FONT,size:21,lineHeight:1.05}}},
      y:{type:'logarithmic',position:'left',min:0.001,max:100,reverse:true,
        grid:{display:false,drawTicks:false},border:{display:false},
        afterBuildTicks:s=>{s.ticks=yTickValues.map(v=>({value:v}));},
        afterFit:s=>{s.width=85;},
        ticks:{callback:(v,i)=>yTickLabels[i],autoSkip:false,padding:3,color:'#000',font:{family:FONT,size:20,lineHeight:1.1}},
        title:{display:true,text:yTitle,color:'#000',padding:{top:7,bottom:0},font:{family:FONT,size:21,lineHeight:1.15}}}
    }
  },
  plugins:[decorPlugin]
});
</script>
</body></html>
